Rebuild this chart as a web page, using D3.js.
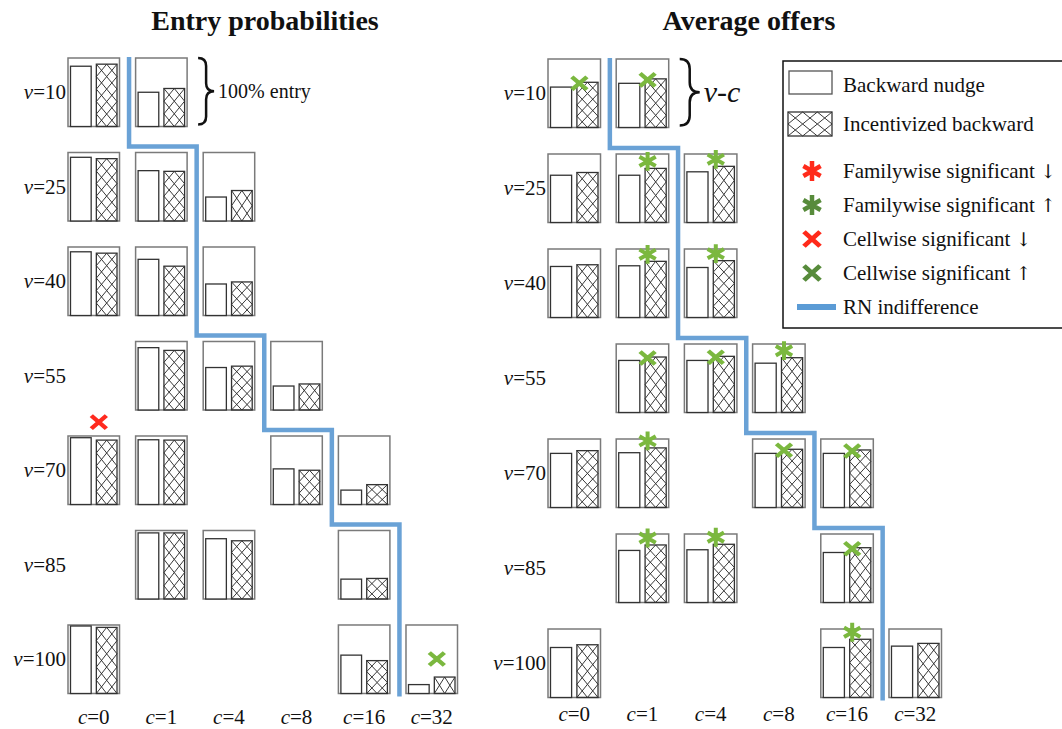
<!DOCTYPE html>
<html>
<head>
<meta charset="utf-8">
<script src="https://cdn.jsdelivr.net/npm/d3@7"></script>
<style>
  body { margin: 0; background: #fff; }
  text { font-family: "Liberation Serif", "Times New Roman", serif; fill: #111; }
</style>
</head>
<body>
<svg id="chart" width="1062" height="729"></svg>
<script>
// grid of treatments
var cols = ["0", "1", "4", "8", "16", "32"];
var rows = ["10", "25", "40", "55", "70", "85", "100"];

// entry probabilities (0..1), null = cell not played
var entryNudge = [
  [0.88, 0.50, null, null, null, null],
  [0.93, 0.735, 0.35, null, null, null],
  [0.93, 0.82, 0.46, null, null, null],
  [null, 0.91, 0.62, 0.35, null, null],
  [0.975, 0.945, null, 0.52, 0.21, null],
  [null, 0.965, 0.88, null, 0.29, null],
  [0.985, null, null, null, 0.56, 0.13]
];
var entryIncent = [
  [0.91, 0.555, null, null, null, null],
  [0.91, 0.725, 0.445, null, null, null],
  [0.91, 0.72, 0.49, null, null, null],
  [null, 0.87, 0.64, 0.38, null, null],
  [0.94, 0.94, null, 0.50, 0.29, null],
  [null, 0.965, 0.85, null, 0.30, null],
  [0.965, null, null, null, 0.48, 0.24]
];

// average offers as a share of v-c
var offerNudge = [
  [0.59, 0.645, null, null, null, null],
  [0.69, 0.69, 0.74, null, null, null],
  [0.745, 0.755, 0.73, null, null, null],
  [null, 0.76, 0.76, 0.72, null, null],
  [0.79, 0.80, null, 0.79, 0.79, null],
  [null, 0.76, 0.77, null, 0.73, null],
  [0.73, null, null, null, 0.73, 0.75]
];
var offerIncent = [
  [0.66, 0.71, null, null, null, null],
  [0.73, 0.79, 0.82, null, null, null],
  [0.77, 0.82, 0.83, null, null, null],
  [null, 0.81, 0.82, 0.80, null, null],
  [0.83, 0.87, null, 0.85, 0.84, null],
  [null, 0.84, 0.85, null, 0.80, null],
  [0.77, null, null, null, 0.85, 0.79]
];

// significance markers: [v, c, kind]
var entryMarks = [["70", "0", "xDown"], ["100", "32", "xUp"]];
var offerMarks = [
  ["10", "0", "xUp"], ["10", "1", "xUp"],
  ["25", "1", "starUp"], ["25", "4", "starUp"],
  ["40", "1", "starUp"], ["40", "4", "starUp"],
  ["55", "1", "xUp"], ["55", "4", "xUp"], ["55", "8", "starUp"],
  ["70", "1", "starUp"], ["70", "8", "xUp"], ["70", "16", "xUp"],
  ["85", "1", "starUp"], ["85", "4", "starUp"], ["85", "16", "xUp"],
  ["100", "16", "starUp"]
];

// RN indifference: number of rows above the step, per column boundary
var indiffRows = [1, 3, 4, 5, 7];

var legendLabels = [["Backward nudge", ""], ["Incentivized backward", ""],
  ["Familywise significant ", "\u2193"], ["Familywise significant ", "\u2191"],
  ["Cellwise significant ", "\u2193"], ["Cellwise significant ", "\u2191"], ["RN indifference", ""]];

var RED = "#ff2a1f", GREEN = "#7bb83f", BLUE = "#6aa2d6";

var svg = d3.select("#chart");

var symStar = d3.symbol().type(d3.symbolAsterisk);
var symX = d3.symbol().type(d3.symbolTimes);

// crosshatch made of X's in an nc x nr grid
function hatchPath(x, y, w, h, nc, nr) {
  var p = "", cw = w / nc, ch = h / nr;
  for (var i = 0; i < nc; i++) {
    for (var j = 0; j < nr; j++) {
      var a = x + i * cw, b = y + j * ch;
      p += "M" + a + "," + b + "L" + (a + cw) + "," + (b + ch);
      p += "M" + (a + cw) + "," + b + "L" + a + "," + (b + ch);
    }
  }
  return p;
}

function bracePath(x, y0, y1, w) {
  var m = (y0 + y1) / 2, h = w / 2;
  return "M" + x + "," + y0 + " Q" + (x + h) + "," + y0 + " " + (x + h) + "," + (y0 + h) +
    " L" + (x + h) + "," + (m - h) + " Q" + (x + h) + "," + m + " " + (x + w) + "," + m +
    " Q" + (x + h) + "," + m + " " + (x + h) + "," + (m + h) +
    " L" + (x + h) + "," + (y1 - h) + " Q" + (x + h) + "," + y1 + " " + x + "," + y1;
}

function drawMark(g, kind, cx, cy) {
  var isStar = kind.indexOf("star") === 0;
  var col = kind.indexOf("Down") > 0 ? RED : GREEN;
  g.append("path")
    .attr("d", isStar ? symStar.size(250)() : symX.size(150)())
    .attr("transform", "translate(" + cx + "," + cy + ")" + (isStar ? "" : " scale(1,0.85)"))
    .attr("fill", "none")
    .attr("stroke", col)
    .attr("stroke-width", isStar ? 4 : 4.6);
}

function drawPanel(cfg) {
  var x = d3.scaleBand().domain(cols).range(cfg.xr).paddingInner(cfg.px);
  var y = d3.scaleBand().domain(rows).range(cfg.yr).paddingInner(cfg.py);
  var bw = x.bandwidth(), bh = y.bandwidth();
  var inner = d3.scaleBand().domain(["n", "i"]).range([2.5, bw - 2.5]).paddingInner(0.2);
  var val = d3.scaleLinear().domain([0, 1]).range([bh, 0]);

  var g = svg.append("g");

  // title
  g.append("text")
    .attr("x", cfg.titleX).attr("y", 30)
    .attr("text-anchor", "middle")
    .style("font-size", "28px").style("font-weight", "bold")
    .text(cfg.title);

  var cells = [];
  rows.forEach(function(v, ri) {
    cols.forEach(function(c, ci) {
      if (cfg.nudge[ri][ci] != null)
        cells.push({v: v, c: c, n: cfg.nudge[ri][ci], i: cfg.incent[ri][ci]});
    });
  });

  var cell = g.selectAll(".cell")
    .data(cells)
    .enter().append("g")
    .attr("transform", function(d) { return "translate(" + x(d.c) + "," + y(d.v) + ")"; });

  cell.append("rect")
    .attr("width", bw).attr("height", bh)
    .attr("fill", "#fff").attr("stroke", "#7a7a7a").attr("stroke-width", 1.5);

  cell.append("rect")
    .attr("x", inner("n")).attr("y", function(d) { return val(d.n); })
    .attr("width", inner.bandwidth())
    .attr("height", function(d) { return bh - val(d.n); })
    .attr("fill", "#fff").attr("stroke", "#333").attr("stroke-width", 1.3);

  cell.append("path")
    .attr("d", function(d) {
      var h = bh - val(d.i);
      return hatchPath(inner("i"), val(d.i), inner.bandwidth(), h, 2, Math.max(1, Math.round(h / 12.5)));
    })
    .attr("fill", "none").attr("stroke", "#222").attr("stroke-width", 0.9);

  cell.append("rect")
    .attr("x", inner("i")).attr("y", function(d) { return val(d.i); })
    .attr("width", inner.bandwidth())
    .attr("height", function(d) { return bh - val(d.i); })
    .attr("fill", "none").attr("stroke", "#333").attr("stroke-width", 1.3);

  // row labels
  rows.forEach(function(v) {
    var t = g.append("text")
      .attr("x", x(cols[0]) - 2).attr("y", y(v) + bh / 2 + 7)
      .attr("text-anchor", "end").style("font-size", "21px");
    t.append("tspan").style("font-style", "italic").text("v");
    t.append("tspan").text("=" + v);
  });

  // column labels
  cols.forEach(function(c) {
    var t = g.append("text")
      .attr("x", x(c) + bw / 2).attr("y", cfg.colLabelY)
      .attr("text-anchor", "middle").style("font-size", "21px");
    t.append("tspan").style("font-style", "italic").text("c");
    t.append("tspan").text("=" + c);
  });

  // RN indifference staircase
  var pts = [];
  var yTop = cfg.yr[0] - 1;
  indiffRows.forEach(function(r, k) {
    var bx = (x(cols[k]) + bw + x(cols[k + 1])) / 2 + 1.5;
    var yy = r >= rows.length ? cfg.yr[1] + 3 : y(rows[r]) - 6;
    pts.push([bx, yTop]);
    pts.push([bx, yy]);
    yTop = yy;
  });
  g.append("path")
    .attr("d", d3.line()(pts))
    .attr("fill", "none").attr("stroke", BLUE).attr("stroke-width", 4.5);

  // significance markers
  cfg.marks.forEach(function(m) {
    var ri = rows.indexOf(m[0]), ci = cols.indexOf(m[1]);
    var top = y(m[0]) + val(cfg.incent[ri][ci]);
    var cx = x(m[1]) + inner("i") + 2.5;
    var off = m[2].indexOf("star") === 0 ? cfg.starOff : cfg.xOff;
    drawMark(g, m[2], cx, top + off);
  });

  // brace annotation next to v=10, c=1
  var bx0 = x(cols[1]) + bw + 11;
  g.append("path")
    .attr("d", bracePath(bx0, y(rows[0]), y(rows[0]) + bh - 2, cfg.braceW))
    .attr("fill", "none").attr("stroke", "#111").attr("stroke-width", 2.5);
  g.append("text")
    .attr("x", bx0 + cfg.braceW + 4).attr("y", y(rows[0]) + bh / 2 + cfg.braceTextDy)
    .style("font-size", cfg.braceFont)
    .style("font-style", cfg.braceItalic ? "italic" : "normal")
    .text(cfg.braceText);
}

drawPanel({
  title: "Entry probabilities", titleX: 265,
  xr: [68, 457.5], px: 0.238, yr: [58, 693.5], py: 0.275,
  nudge: entryNudge, incent: entryIncent, marks: entryMarks,
  xOff: -18, starOff: -18, colLabelY: 724,
  braceW: 16, braceText: "100% entry", braceFont: "20px", braceItalic: false, braceTextDy: 6
});

drawPanel({
  title: "Average offers", titleX: 749,
  xr: [548, 941.5], px: 0.23, yr: [59, 697.5], py: 0.279,
  nudge: offerNudge, incent: offerIncent, marks: offerMarks,
  xOff: 1, starOff: -7, colLabelY: 721,
  braceW: 20, braceText: "v-c", braceFont: "30px", braceItalic: true, braceTextDy: 9
});

// legend
var lg = svg.append("g").attr("transform", "translate(783,61)");
lg.append("rect")
  .attr("width", 300).attr("height", 267)
  .attr("fill", "#fff").attr("stroke", "#111").attr("stroke-width", 1.5);

var ly = [24, 63, 110, 144, 178, 212, 246];
lg.append("rect").attr("x", 6).attr("y", 10).attr("width", 43).attr("height", 23)
  .attr("fill", "#fff").attr("stroke", "#555").attr("stroke-width", 1.3);
lg.append("path").attr("d", hatchPath(5, 51, 44, 24, 3, 2))
  .attr("fill", "none").attr("stroke", "#222").attr("stroke-width", 0.9);
lg.append("rect").attr("x", 5).attr("y", 51).attr("width", 44).attr("height", 24)
  .attr("fill", "none").attr("stroke", "#333").attr("stroke-width", 1.3);

var legendMarks = [["star", "#ff2a1a"], ["star", "#578b3b"], ["x", "#ff2a1a"], ["x", "#578b3b"]];
legendMarks.forEach(function(m, i) {
  var isStar = m[0] === "star";
  lg.append("path")
    .attr("d", isStar ? symStar.size(280)() : symX.size(170)())
    .attr("transform", "translate(29," + ly[i + 2] + ")" + (isStar ? "" : " scale(1,0.9)"))
    .attr("fill", "none").attr("stroke", m[1]).attr("stroke-width", isStar ? 4.5 : 5);
});
lg.append("line").attr("x1", 14).attr("x2", 53).attr("y1", ly[6]).attr("y2", ly[6])
  .attr("stroke", "#5b9bd5").attr("stroke-width", 6);

var lt = lg.selectAll(".lt")
  .data(legendLabels)
  .enter().append("text")
  .attr("x", 60)
  .attr("y", function(d, i) { return ly[i] + 7; })
  .style("font-size", "21px");
lt.append("tspan").text(function(d) { return d[0]; });
lt.append("tspan")
  .style("font-family", "'DejaVu Serif', 'DejaVu Sans', serif")
  .style("font-size", "19px")
  .text(function(d) { return d[1]; });
</script>
</body>
</html>
